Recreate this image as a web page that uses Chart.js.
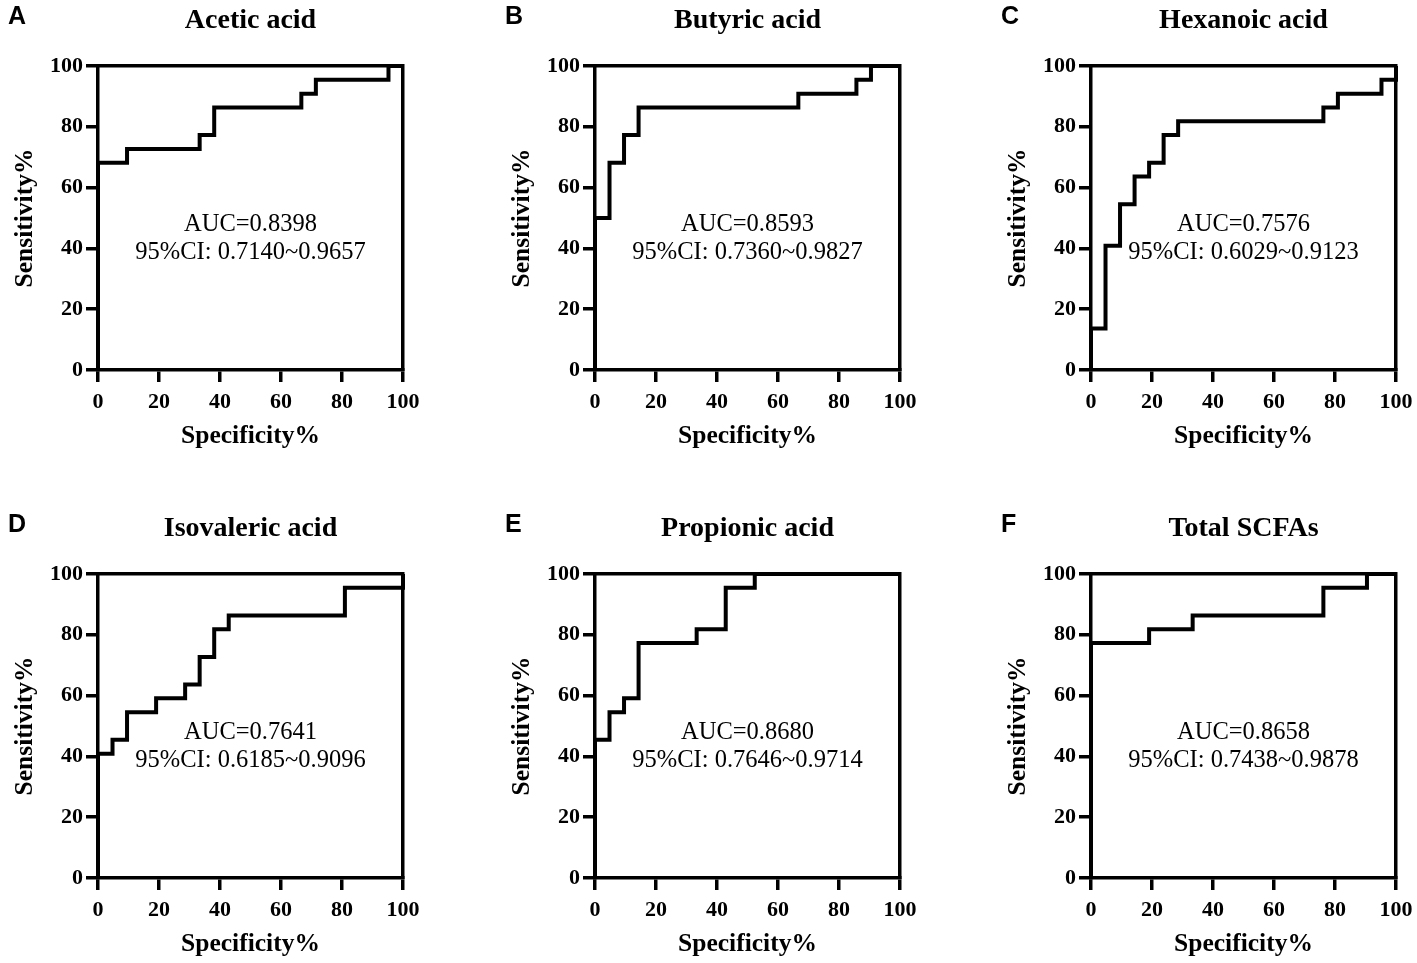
<!DOCTYPE html>
<html>
<head>
<meta charset="utf-8">
<script src="https://cdn.jsdelivr.net/npm/chart.js@4.4.1/dist/chart.umd.min.js"></script>
<style>
  html, body { margin: 0; padding: 0; background: #fff; }
  #wrap { position: relative; width: 1417px; height: 963px; background: #fff; overflow: hidden; }
  canvas { position: absolute; }
</style>
</head>
<body>
<div id="wrap">
  <canvas id="cA" width="424" height="455" style="left:0px;top:0px"></canvas>
  <canvas id="cB" width="424" height="455" style="left:497px;top:0px"></canvas>
  <canvas id="cC" width="424" height="455" style="left:993px;top:0px"></canvas>
  <canvas id="cD" width="424" height="455" style="left:0px;top:508px"></canvas>
  <canvas id="cE" width="424" height="455" style="left:497px;top:508px"></canvas>
  <canvas id="cF" width="424" height="455" style="left:993px;top:508px"></canvas>
</div>
<script>
// ---- Data (x = 100 - specificity %, y = sensitivity %), step corners ----
const panelLetters = ["A", "B", "C", "D", "E", "F"];
const panelTitles = ["Acetic acid", "Butyric acid", "Hexanoic acid", "Isovaleric acid", "Propionic acid", "Total SCFAs"];
const aucTexts = ["AUC=0.8398", "AUC=0.8593", "AUC=0.7576", "AUC=0.7641", "AUC=0.8680", "AUC=0.8658"];
const ciTexts = ["95%CI: 0.7140~0.9657", "95%CI: 0.7360~0.9827", "95%CI: 0.6029~0.9123",
                 "95%CI: 0.6185~0.9096", "95%CI: 0.7646~0.9714", "95%CI: 0.7438~0.9878"];

const aceticX = [0, 0, 9.52, 33.33, 38.10, 66.67, 71.43, 95.24, 100];
const aceticY = [0, 68.18, 72.73, 77.27, 86.36, 90.91, 95.45, 100, 100];

const butyricX = [0, 0, 4.76, 9.52, 14.29, 66.67, 85.71, 90.48, 100];
const butyricY = [0, 50, 68.18, 77.27, 86.36, 90.91, 95.45, 100, 100];

const hexanoicX = [0, 0, 4.76, 9.52, 14.29, 19.05, 23.81, 28.57, 76.19, 80.95, 95.24, 100];
const hexanoicY = [0, 13.64, 40.91, 54.55, 63.64, 68.18, 77.27, 81.82, 86.36, 90.91, 95.45, 100];

const isovalericX = [0, 0, 4.76, 9.52, 19.05, 28.57, 33.33, 38.10, 42.86, 80.95, 100];
const isovalericY = [0, 40.91, 45.45, 54.55, 59.09, 63.64, 72.73, 81.82, 86.36, 95.45, 100];

const propionicX = [0, 0, 4.76, 9.52, 14.29, 33.33, 42.86, 52.38, 100];
const propionicY = [0, 45.45, 54.55, 59.09, 77.27, 81.82, 95.45, 100, 100];

const totalX = [0, 0, 19.05, 33.33, 76.19, 90.48, 100];
const totalY = [0, 77.27, 81.82, 86.36, 95.45, 100, 100];

const xTicks = [0, 20, 40, 60, 80, 100];
const yTicks = [0, 20, 40, 60, 80, 100];
const xAxisTitle = "Specificity%";
const yAxisTitle = "Sensitivity%";

const seriesX = [aceticX, butyricX, hexanoicX, isovalericX, propionicX, totalX];
const seriesY = [aceticY, butyricY, hexanoicY, isovalericY, propionicY, totalY];
const canvasIds = ["cA", "cB", "cC", "cD", "cE", "cF"];

// ---- Styling ----
const SERIF = "'Liberation Serif', 'Times New Roman', serif";
const SANS = "'Liberation Sans', Arial, sans-serif";
Chart.defaults.color = "#000";
Chart.defaults.font.family = SERIF;

const annotPlugin = {
  id: "annot",
  afterDraw(chart, args, opts) {
    const ctx = chart.ctx;
    const a = chart.chartArea;
    const cx = (a.left + a.right) / 2;
    const h = a.bottom - a.top;
    ctx.save();
    ctx.fillStyle = "#000";
    ctx.textBaseline = "middle";
    // panel title
    ctx.textAlign = "center";
    ctx.font = "bold 28px " + SERIF;
    ctx.fillText(opts.title, cx, a.top - 45);
    // panel letter
    ctx.textAlign = "left";
    ctx.font = "bold 25px " + SANS;
    ctx.fillText(opts.letter, a.left - 90, a.top - 49);
    // AUC annotation
    ctx.textAlign = "center";
    ctx.font = "24.5px " + SERIF;
    ctx.fillText(opts.auc, cx, a.top + 0.523 * h);
    ctx.fillText(opts.ci, cx, a.top + 0.615 * h);
    ctx.restore();
  }
};

function makeChart(i) {
  const pts = seriesX[i].map((x, k) => ({ x: x, y: seriesY[i][k] }));
  const axisCommon = {
    type: "linear",
    min: 0,
    max: 100,
    border: { display: true, color: "#000", width: 3.5 },
    grid: { display: true, drawOnChartArea: false, drawTicks: true, tickLength: 12, color: "#000", lineWidth: 3.5 },
  };
  return new Chart(document.getElementById(canvasIds[i]), {
    type: "scatter",
    data: {
      datasets: [{
        data: pts,
        showLine: true,
        stepped: "before",
        borderColor: "#000",
        borderWidth: 4,
        pointRadius: 0,
        fill: false,
        clip: 4
      }]
    },
    options: {
      responsive: false,
      animation: false,
      devicePixelRatio: 1,
      layout: { padding: { left: 10, right: 21, top: 66, bottom: 0 } },
      plugins: {
        legend: { display: false },
        tooltip: { enabled: false },
        annot: { title: panelTitles[i], letter: panelLetters[i], auc: aucTexts[i], ci: ciTexts[i] }
      },
      scales: {
        x: Object.assign({}, axisCommon, {
          position: "bottom",
          afterBuildTicks: (s) => { s.ticks = xTicks.map(v => ({ value: v })); },
          ticks: { font: { size: 22, weight: "bold", family: SERIF }, padding: 7, maxRotation: 0, autoSkip: false },
          title: { display: true, text: xAxisTitle, font: { size: 25.5, weight: "bold", family: SERIF }, padding: { top: 0, bottom: 3 } },
          afterFit: (s) => { s.height = 455 - 370; s.paddingLeft = 0; s.paddingRight = 0; }
        }),
        y: Object.assign({}, axisCommon, {
          position: "left",
          afterBuildTicks: (s) => { s.ticks = yTicks.map(v => ({ value: v })); },
          ticks: { font: { size: 22, weight: "bold", family: SERIF }, padding: 3, autoSkip: false },
          title: { display: true, text: yAxisTitle, font: { size: 25.5, weight: "bold", family: SERIF }, padding: { top: 0, bottom: 0 } },
          afterFit: (s) => { s.width = 88; s.paddingTop = 0; s.paddingBottom = 0; }
        }),
        xTop: {
          type: "linear", position: "top", min: 0, max: 100, display: true,
          ticks: { display: false },
          grid: { display: false, drawTicks: false },
          border: { display: true, color: "#000", width: 3.5 },
          afterFit: (s) => { s.height = 0; s.paddingLeft = 0; s.paddingRight = 0; }
        },
        yRight: {
          type: "linear", position: "right", min: 0, max: 100, display: true,
          ticks: { display: false },
          grid: { display: false, drawTicks: false },
          border: { display: true, color: "#000", width: 3.5 },
          afterFit: (s) => { s.width = 0; s.paddingTop = 0; s.paddingBottom = 0; }
        }
      }
    },
    plugins: [annotPlugin]
  });
}

for (let i = 0; i < 6; i++) makeChart(i);
</script>
</body>
</html>
